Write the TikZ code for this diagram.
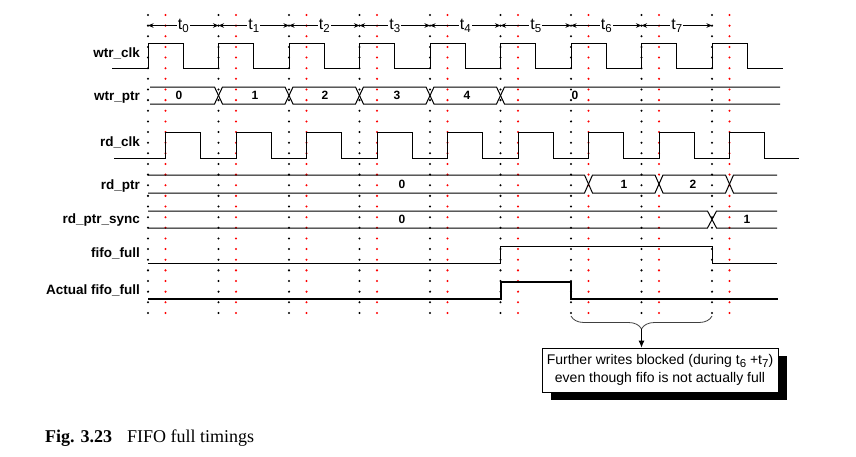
\documentclass[tikz,border=0pt]{standalone}
\usepackage{fontspec}
\setmainfont{Liberation Serif}
\setsansfont{Liberation Sans}
\usetikzlibrary{arrows.meta, positioning, decorations.pathreplacing, shadows}

\newcommand{\tsub}[1]{\raisebox{-3pt}{\fontsize{11.5}{11.5}\selectfont #1}}

\tikzset{
	siglabel/.style={
			anchor=base east,
			inner sep=0pt,
			font=\sffamily\bfseries\fontsize{13.5}{14}\selectfont
		},
	busvalue/.style={
			inner sep=0pt,
			font=\sffamily\bfseries\fontsize{12}{12}\selectfont
		},
	tlabel/.style={
			fill=white,
			inner sep=1pt,
			font=\sffamily\fontsize{16}{16}\selectfont
		},
	period/.style={
			{Stealth[length=5.5pt,width=4.5pt]}-{Stealth[length=5.5pt,width=4.5pt]},
			line width=0.8pt
		},
	wave/.style={line width=1pt},
	thickwave/.style={line width=2pt},
	wtrgrid/.style={
			black,
			line width=2.3pt,
			line cap=round,
			dash pattern=on 0pt off 10.64pt
		},
	rdgrid/.style={
			wtrgrid,
			red
		},
	notebox/.style={
			draw=black,
			fill=white,
			line width=0.8pt,
			align=center,
			minimum width=236pt,
			minimum height=44pt,
			inner sep=2pt,
			font=\sffamily\fontsize{14}{18}\selectfont,
			drop shadow={shadow xshift=9pt, shadow yshift=-8pt, opacity=1, fill=black}
		}
}

\begin{document}
\begin{tikzpicture}[x=1pt, y=-1pt]
	\useasboundingbox (0,0) rectangle (856,456);

	% clock edge guides
	\foreach \x in {148,218.5,289,359.5,430,500.5,571,641.5,712}
		\draw[wtrgrid] (\x,15) -- (\x,313);
	\foreach \x in {165.5,236,306.5,377,447.5,518,588.5,659,729.5}
		\draw[rdgrid] (\x,15) -- (\x,313);

	% periods of wtr_clk
	\coordinate (w0) at (148,25.5);
	\coordinate (w1) at (218.5,25.5);
	\coordinate (w2) at (289,25.5);
	\coordinate (w3) at (359.5,25.5);
	\coordinate (w4) at (430,25.5);
	\coordinate (w5) at (500.5,25.5);
	\coordinate (w6) at (571,25.5);
	\coordinate (w7) at (641.5,25.5);
	\coordinate (w8) at (712,25.5);
	\draw[period] (w0) -- node[tlabel] (t0) {t\tsub{0}} (w1);
	\draw[period] (w1) -- node[tlabel] (t1) {t\tsub{1}} (w2);
	\draw[period] (w2) -- node[tlabel] (t2) {t\tsub{2}} (w3);
	\draw[period] (w3) -- node[tlabel] (t3) {t\tsub{3}} (w4);
	\draw[period] (w4) -- node[tlabel] (t4) {t\tsub{4}} (w5);
	\draw[period] (w5) -- node[tlabel] (t5) {t\tsub{5}} (w6);
	\draw[period] (w6) -- node[tlabel] (t6) {t\tsub{6}} (w7);
	\draw[period] (w7) -- node[tlabel] (t7) {t\tsub{7}} (w8);

	% signal names
	\node[siglabel] (wtrclk) at (140,57) {wtr\_clk};
	\node[siglabel] (wtrptr) at (140,100) {wtr\_ptr};
	\node[siglabel] (rdclk) at (140,146) {rd\_clk};
	\node[siglabel] (rdptr) at (140,189) {rd\_ptr};
	\node[siglabel] (rdsync) at (140,223) {rd\_ptr\_sync};
	\node[siglabel] (fifofull) at (140,257) {fifo\_full};
	\node[siglabel] (actfull) at (140,294) {Actual fifo\_full};

	% wtr_clk
	\draw[wave] (112,68)
		\foreach \x in {148,218.5,289,359.5,430,500.5,571,641.5,712}
			{ -- (\x,68) -- (\x,43) -- (\x+35,43) -- (\x+35,68) }
		-- (783,68);

	% wtr_ptr
	\draw[wave] (150,87) -- (214.5,87) -- (222.5,104) -- (285,104) -- (293,87)
		-- (355.5,87) -- (363.5,104) -- (426,104) -- (434,87)
		-- (496.5,87) -- (504.5,104) -- (780,104);
	\draw[wave] (150,104) -- (214.5,104) -- (222.5,87) -- (285,87) -- (293,104)
		-- (355.5,104) -- (363.5,87) -- (426,87) -- (434,104)
		-- (496.5,104) -- (504.5,87) -- (780,87);
	\node[busvalue] (wv0) at (179,95.5) {0};
	\node[busvalue] (wv1) at (255,95.5) {1};
	\node[busvalue] (wv2) at (325,95.5) {2};
	\node[busvalue] (wv3) at (397,95.5) {3};
	\node[busvalue] (wv4) at (467,95.5) {4};
	\node[busvalue] (wv5) at (575,95.5) {0};

	% rd_clk
	\draw[wave] (114,158)
		\foreach \x in {165.5,236,306.5,377,447.5,518,588.5,659,729.5}
			{ -- (\x,158) -- (\x,132) -- (\x+35,132) -- (\x+35,158) }
		-- (799,158);

	% rd_ptr
	\draw[wave] (148,175) -- (584.5,175) -- (592.5,193) -- (655,193) -- (663,175)
		-- (725.5,175) -- (733.5,193) -- (777,193);
	\draw[wave] (148,193) -- (584.5,193) -- (592.5,175) -- (655,175) -- (663,193)
		-- (725.5,193) -- (733.5,175) -- (777,175);
	\node[busvalue] (rv0) at (402,184) {0};
	\node[busvalue] (rv1) at (624,184) {1};
	\node[busvalue] (rv2) at (693,184) {2};

	% rd_ptr_sync
	\draw[wave] (148,211) -- (707.5,211) -- (716.5,228) -- (777,228);
	\draw[wave] (148,228) -- (707.5,228) -- (716.5,211) -- (777,211);
	\node[busvalue] (sv0) at (402,219.5) {0};
	\node[busvalue] (sv1) at (747,219.5) {1};

	% fifo_full
	\draw[wave] (148,263) -- (500.5,263) -- (500.5,246) -- (712,246) -- (712,263) -- (777,263);

	% Actual fifo_full
	\draw[thickwave] (148,299) -- (500.5,299) -- (500.5,282) -- (571,282) -- (571,299) -- (778,299);

	% note
	\draw[line width=0.8pt, black!75, decorate, decoration={brace, mirror, amplitude=13pt}]
		(571,316) -- (712,316);
	\coordinate (bt) at (641.5,329);
	\node[notebox] (note) at (660,370)
		{Further writes blocked (during t\tsub{6} +t\tsub{7})\\even though fifo is not actually full};
	\draw[-{Latex[length=7pt,width=6pt]}, line width=0.8pt] (bt) -- (bt |- note.north);

	% caption
	\node[anchor=base west, inner sep=0pt, font=\fontsize{18}{20}\selectfont] (caption) at (45,442)
		{\textbf{Fig. 3.23}\hspace{15pt}FIFO full timings};
\end{tikzpicture}
\end{document}
